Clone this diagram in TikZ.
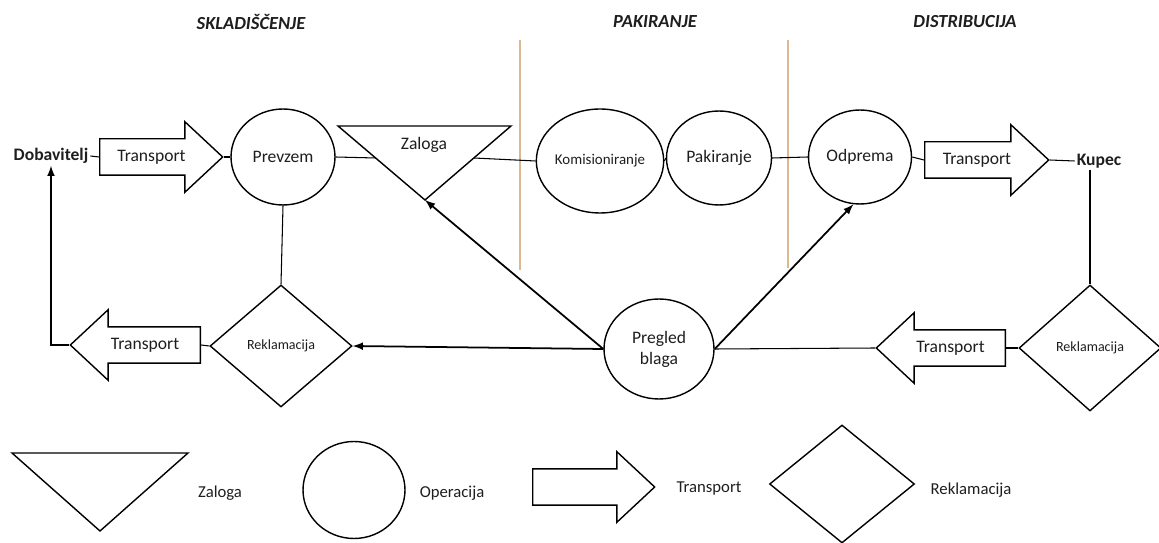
\documentclass[tikz,border=0pt]{standalone}
\usepackage{fontspec}
\setmainfont{Carlito}
\usetikzlibrary{shapes.geometric,shapes.arrows}
\definecolor{sepcol}{RGB}{220,186,145}
\definecolor{txtcol}{RGB}{30,30,30}

\tikzset{
  oper/.style={draw,ellipse,inner sep=0pt,line width=0.8pt,align=center,font=\fontsize{10}{12}\selectfont},
  rekl/.style={draw,diamond,inner sep=0pt,minimum width=2.84cm,minimum height=2.5cm,line width=0.8pt,font=\fontsize{8}{10}\selectfont},
  trans/.style={draw,single arrow,single arrow head extend=0.34cm,single arrow tip angle=86,inner xsep=0pt,inner ysep=0pt,text height=0.45cm,text depth=0.25cm,line width=0.8pt,anchor=tail,font=\fontsize{10}{12}\selectfont},
  faza/.style={font=\fontsize{10.5}{12}\selectfont\bfseries\itshape},
  konec/.style={inner sep=1pt,font=\fontsize{10}{12}\selectfont\bfseries},
  legtxt/.style={font=\fontsize{9.5}{11}\selectfont},
  povez/.style={line width=0.6pt},
  puscica/.style={line width=1pt},
}

\begin{document}
\begin{tikzpicture}[x=0.02cm,y=-0.02cm,>=latex,text=txtcol]
  \useasboundingbox (0,0) rectangle (1159,543);

  % faze
  \node (f1) at (251,22) [faza]{SKLADIŠČENJE};
  \node (f2) at (655,22) [faza]{PAKIRANJE};
  \node (f3) at (965,22) [faza]{DISTRIBUCIJA};
  \draw[sepcol,line width=0.7pt] (520,40) -- (520,270);
  \draw[sepcol,line width=0.7pt] (788,40) -- (788,268);

  % zgornja vrsta
  \node (dob) at (51,156) [konec]{Dobavitelj};
  \node (tr1) at (99,157) [trans,minimum height=2.46cm]{Transport};
  \node (prev) at (283,157) [oper,minimum width=2.08cm,minimum height=1.92cm]{Prevzem};

  \coordinate (zal-a) at (338,126);
  \coordinate (zal-b) at (511,126);
  \coordinate (zal-c) at (425,200);
  \coordinate (zal-l) at (376,158);
  \coordinate (zal-r) at (474,158);
  \draw[line width=0.8pt] (zal-a) -- (zal-b) -- (zal-c) -- cycle;
  \node (zal) at (424,145) [font=\fontsize{10}{12}\selectfont]{Zaloga};

  \node (kom) at (600,161) [oper,minimum width=2.48cm,minimum height=2.08cm,font=\fontsize{8.5}{10}\selectfont]{Komisioniranje};
  \node (pak) at (719,158) [oper,minimum width=2.1cm,minimum height=1.88cm]{Pakiranje};
  \node (odp) at (860,157) [oper,minimum width=2.06cm,minimum height=1.88cm]{Odprema};
  \node (tr2) at (924,160) [trans,minimum height=2.48cm]{Transport};
  \node (kup) at (1099,161) [konec]{Kupec};

  % spodnja vrsta
  \node (rek1) at (281,346) [rekl,minimum height=2.44cm]{Reklamacija};
  \node (tr4) at (201,345) [trans,shape border rotate=180,minimum height=2.6cm]{Transport};
  \node (preg) at (659,349) [oper,minimum width=2.2cm,minimum height=2cm]{Pregled\\blaga};
  \node (tr3) at (1006,348) [trans,shape border rotate=180,minimum height=2.58cm]{Transport};
  \node (rek2) at (1090,348) [rekl,minimum height=2.52cm]{Reklamacija};

  \draw[povez] (dob.east) -- (tr1.tail);
  \draw[povez] (tr1.tip) -- (prev.west);
  \draw[povez] (prev.east) -- (zal-l);
  \draw[povez] (zal-r) -- (kom.west);
  \draw[povez] (kom.east) -- (pak.west);
  \draw[povez] (pak.east) -- (odp.west);
  \draw[povez] (odp.east) -- (tr2.tail);
  \draw[povez] (tr2.tip) -- (kup.west);
  \draw[povez] (kup.south -| rek2.north) -- (rek2.north);
  \draw[povez] (prev.south) -- (rek1.north);
  \draw[povez] (rek2.west) -- (tr3.tail);
  \draw[povez] (tr3.tip) -- (preg.east);
  \draw[povez] (rek1.west) -- (tr4.tail);

  \draw[puscica,->] (preg.west) -- (rek1.east);
  \draw[puscica,->] (preg.west) -- (zal-c);
  \draw[puscica,->] (preg.east) -- (odp.-98);
  \draw[puscica,->] (tr4.tip) -| (dob.south);

  % legenda
  \coordinate (lz-a) at (12,453);
  \coordinate (lz-b) at (188,453);
  \coordinate (lz-c) at (100,531);
  \draw[line width=0.8pt] (lz-a) -- (lz-b) -- (lz-c) -- cycle;
  \node (lzt) at (220,493) [legtxt]{Zaloga};
  \node (lop) at (354,490) [oper,minimum width=2.04cm,minimum height=1.94cm]{};
  \node (lopt) at (452,493) [legtxt]{Operacija};
  \node (ltr) at (532,487) [trans,minimum height=2.44cm]{};
  \node (ltrt) at (709,488) [legtxt]{Transport};
  \node (lrek) at (842,484) [rekl,minimum width=2.9cm,minimum height=2.36cm]{};
  \node (lrekt) at (971,490) [legtxt]{Reklamacija};
\end{tikzpicture}
\end{document}
